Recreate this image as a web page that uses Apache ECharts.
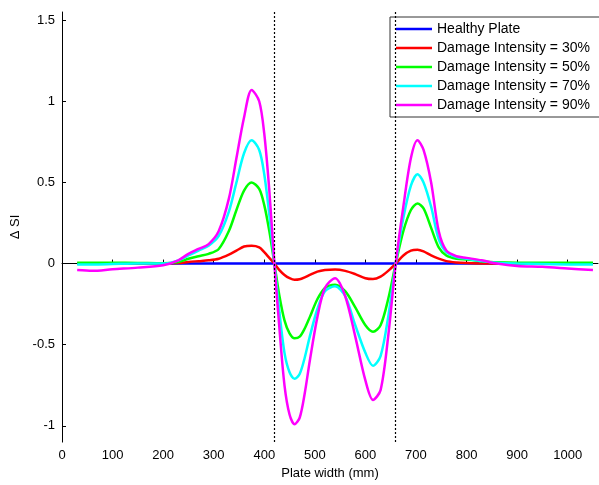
<!DOCTYPE html>
<html><head><meta charset="utf-8">
<script src="https://cdn.jsdelivr.net/npm/echarts@6/dist/echarts.min.js"></script>
<style>html,body{margin:0;padding:0;background:#fff}#c{width:599px;height:485px}</style>
</head><body><div id="c"></div>
<script>
const xs = [30,60,100,150,200,230,250,270,290,310,330,345,360,375,390,400,410,420,430,440,450,460,470,480,490,505,520,540,560,580,600,615,630,645,660,675,690,703,715,730,745,760,780,800,830,860,900,950,1000,1050];
const healthy = xs.map(() => 0);
const d30 = [0,0,0,0,0,0.003,0.01,0.015,0.02,0.03,0.055,0.08,0.105,0.11,0.1,0.07,0.035,0,-0.04,-0.07,-0.09,-0.1,-0.097,-0.085,-0.07,-0.05,-0.04,-0.037,-0.045,-0.065,-0.09,-0.095,-0.08,-0.045,0,0.05,0.08,0.085,0.075,0.05,0.03,0.015,0.007,0.003,0,0,0,0,0,0];
const d50 = [0.005,0.005,0.005,0.004,0.002,0.01,0.03,0.045,0.06,0.09,0.2,0.33,0.45,0.5,0.46,0.36,0.2,0,-0.2,-0.35,-0.43,-0.46,-0.45,-0.4,-0.33,-0.22,-0.15,-0.13,-0.17,-0.27,-0.38,-0.42,-0.38,-0.22,0,0.2,0.33,0.37,0.34,0.22,0.1,0.05,0.03,0.025,0.015,0.008,0.005,0.005,0.005,0.005];
const d70 = [-0.005,-0.005,-0.003,0,0,0.02,0.05,0.08,0.11,0.17,0.32,0.5,0.68,0.76,0.7,0.55,0.3,0,-0.3,-0.55,-0.67,-0.71,-0.68,-0.58,-0.45,-0.28,-0.17,-0.14,-0.2,-0.38,-0.55,-0.63,-0.57,-0.33,0,0.28,0.48,0.55,0.5,0.35,0.15,0.07,0.04,0.03,0.015,0.005,0,-0.003,-0.005,-0.006];
const d90 = [-0.04,-0.045,-0.035,-0.025,-0.01,0.02,0.06,0.09,0.12,0.2,0.4,0.65,0.9,1.07,1.0,0.8,0.45,0,-0.4,-0.75,-0.93,-0.99,-0.95,-0.8,-0.6,-0.33,-0.15,-0.09,-0.2,-0.45,-0.72,-0.84,-0.78,-0.45,0,0.35,0.65,0.76,0.7,0.5,0.2,0.08,0.045,0.035,0.02,0,-0.015,-0.02,-0.03,-0.04];
const xTicks = [0,100,200,300,400,500,600,700,800,900,1000];
const yTicks = [-1,-0.5,0,0.5,1,1.5];
const damageLines = [420, 660];
const names = ['Healthy Plate','Damage Intensity = 30%','Damage Intensity = 50%','Damage Intensity = 70%','Damage Intensity = 90%'];
const colors = ['#0000ff','#ff0000','#00ff00','#00ffff','#ff00ff'];
const seriesData = [healthy, d30, d50, d70, d90];

const font = 'Liberation Sans, Arial, sans-serif';
const chart = echarts.init(document.getElementById('c'));
const series = seriesData.map((arr, i) => ({
  name: names[i], type: 'line', symbol: 'none', smooth: 0.3,
  data: xs.map((x, k) => [x, arr[k]]),
  lineStyle: {color: colors[i], width: 2.5}, itemStyle: {color: colors[i]},
  z: 3
}));
series[0].markLine = {
  silent: true, symbol: 'none', label: {show: false},
  lineStyle: {color: '#000', type: [2, 2], width: 1.2},
  data: damageLines.map(v => ({xAxis: v}))
};
chart.setOption({
  animation: false,
  textStyle: {fontFamily: font},
  grid: {left: 62, right: 1, top: 12, bottom: 42},
  legend: {
    orient: 'vertical', left: 390, top: 17,
    padding: [5, 40, 5, 6], itemGap: 5, itemWidth: 36, itemHeight: 2.5,
    icon: 'rect',
    borderColor: '#333', borderWidth: 1, backgroundColor: '#fff',
    textStyle: {fontFamily: font, fontSize: 14, color: '#000', lineHeight: 14, padding: [0,0,0,0]},
    data: names
  },
  xAxis: {
    type: 'value', min: 0, max: 1060,
    name: 'Plate width (mm)', nameLocation: 'middle', nameGap: 24,
    nameTextStyle: {fontFamily: font, fontSize: 13, color: '#000'},
    axisLine: {lineStyle: {color: '#000', width: 1}},
    axisTick: {inside: true, length: 4, customValues: xTicks, lineStyle: {color: '#000'}},
    axisLabel: {customValues: xTicks, formatter: v => String(v), fontFamily: font, fontSize: 13, color: '#000', margin: 7},
    splitLine: {show: false}
  },
  yAxis: {
    type: 'value', min: -1.1, max: 1.55,
    name: 'Δ SI', nameLocation: 'middle', nameGap: 34,
    nameTextStyle: {fontFamily: font, fontSize: 13, color: '#000'},
    axisLine: {show: true, lineStyle: {color: '#000', width: 1}},
    axisTick: {show: true, inside: true, length: 4, customValues: yTicks, lineStyle: {color: '#000'}},
    axisLabel: {customValues: yTicks, formatter: v => String(v), fontFamily: font, fontSize: 13, color: '#000', margin: 7},
    splitLine: {show: false}
  },
  series: series
});
</script></body></html>
